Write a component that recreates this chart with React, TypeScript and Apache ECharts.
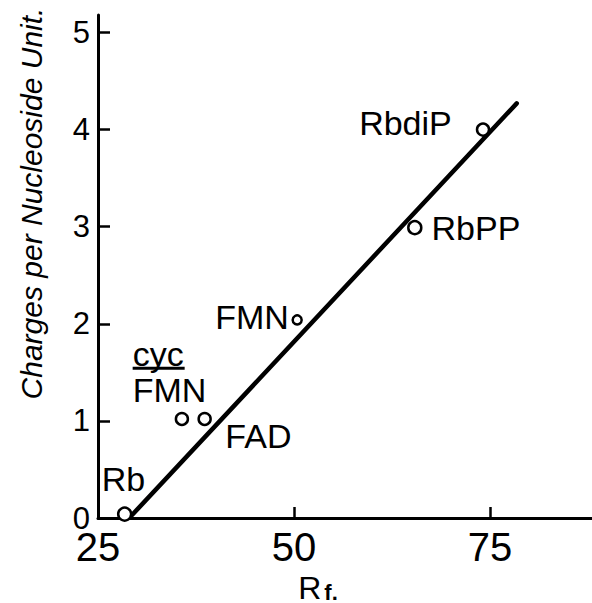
import React, { useEffect, useRef } from "react";
import * as echarts from "echarts";

const compounds = ["Rb", "cyc FMN", "FAD", "FMN", "RbPP", "RbdiP"];
const rfValues = [28.4, 35.7, 38.6, 50.4, 65.4, 74.1];
const chargeValues = [0.04, 1.02, 1.02, 2.04, 2.99, 4.0];
const fitRf = [29.1, 78.4];
const fitCharge = [0.01, 4.27];
const xTickValues = [25, 50, 75];
const yTickValues = [0, 1, 2, 3, 4, 5];

// label placement: [dx, dy, align] relative to the point centre
const labelPlacement: Record<string, [number, number, string]> = {
  Rb: [0, -34, "center"],
  "cyc FMN": [-48, -42.5, "left"],
  FAD: [55, 18, "center"],
  FMN: [-7, -2, "right"],
  RbPP: [18, 2, "left"],
  RbdiP: [-30, -5, "right"],
};
const symbolSizes = [13, 12, 12, 9, 13, 12];

const FONT = "'Liberation Sans', Arial, sans-serif";

export default function App() {
  const ref = useRef<HTMLDivElement>(null);
  useEffect(() => {
    if (!ref.current) return;
    const chart = echarts.init(ref.current, null, { renderer: "svg" });
    const txt = { fontFamily: FONT, color: "#000", textBorderWidth: 0, textBorderColor: "transparent" };
    const points = compounds.map((name, i) => {
      const size = symbolSizes[i];
      const [dx, dy, align] = labelPlacement[name];
      const isCyc = name === "cyc FMN";
      return {
        name,
        value: [rfValues[i], chargeValues[i]],
        symbolSize: size,
        label: {
          show: true,
          position: [size / 2 + dx, size / 2 + dy],
          align,
          verticalAlign: "middle",
          formatter: isCyc ? "{c|cyc}\n{u|}\n{f|FMN}" : name,
          fontSize: 34,
          opacity: 1,
          ...txt,
          rich: isCyc
            ? {
                c: { fontSize: 34, lineHeight: 26, ...txt },
                u: { width: 52, height: 3, lineHeight: 3, backgroundColor: "#000" },
                f: { fontSize: 34, lineHeight: 40, ...txt },
              }
            : undefined,
        },
      };
    });
    chart.setOption({
      animation: false,
      backgroundColor: "#fff",
      grid: { left: 98, right: 0, top: 15, bottom: 85, containLabel: false, outerBoundsMode: "none" },
      xAxis: {
        type: "value",
        min: 25,
        max: 88,
        name: "{r|R}{s|f.}",
        nameLocation: "middle",
        nameGap: 54,
        nameTextStyle: {
          padding: [0, 54, 0, 0],
          rich: {
            r: { fontSize: 32, lineHeight: 26, ...txt, verticalAlign: "bottom" },
            s: { fontSize: 22, lineHeight: 14, fontWeight: "bold", ...txt, verticalAlign: "bottom", padding: [0, 0, 0, 3] },
          },
        },
        splitLine: { show: false },
        axisLine: { lineStyle: { color: "#000", width: 3 } },
        axisTick: { inside: true, length: 11, lineStyle: { color: "#000", width: 2.5 }, customValues: xTickValues },
        axisLabel: { customValues: xTickValues, fontSize: 40, lineHeight: 32, ...txt, margin: 13 },
      },
      yAxis: {
        type: "value",
        min: 0,
        max: 5.18,
        name: "Charges per Nucleoside Unit.",
        nameLocation: "middle",
        nameGap: 52,
        nameTextStyle: {
          fontSize: 30,
          fontStyle: "italic",
          ...txt,
          padding: [0, 0, 0, 126],
        },
        splitLine: { show: false },
        axisLine: { lineStyle: { color: "#000", width: 3 } },
        axisTick: { inside: true, length: 12, lineStyle: { color: "#000", width: 2.5 }, customValues: yTickValues },
        axisLabel: { customValues: yTickValues, fontSize: 31, lineHeight: 22, ...txt, margin: 8 },
      },
      series: [
        {
          type: "line",
          data: fitRf.map((x, i) => [x, fitCharge[i]]),
          showSymbol: false,
          symbol: "none",
          lineStyle: { color: "#000", width: 4.5, cap: "round", opacity: 1 },
          z: 2,
          silent: true,
        },
        {
          type: "scatter",
          data: points,
          symbol: "circle",
          itemStyle: { color: "#fff", borderColor: "#000", borderWidth: 2.5, opacity: 1 },
          z: 3,
        },
      ],
    });
    return () => chart.dispose();
  }, []);
  return (
    <div
      ref={ref}
      style={{ position: "fixed", left: 0, top: 0, width: 592, height: 603, background: "#fff" }}
    />
  );
}
